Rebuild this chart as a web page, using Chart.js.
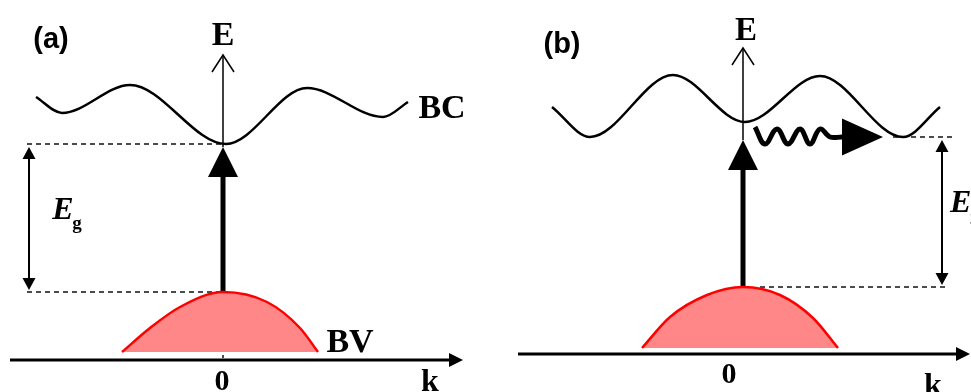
<!DOCTYPE html>
<html lang="en">
<head>
<meta charset="UTF-8">
<title>Direct and indirect band gap</title>
<script src="https://cdn.jsdelivr.net/npm/chart.js@4"></script>
<style>
  body { margin: 0; background: #fff; }
  #wrap { position: relative; width: 971px; height: 392px; overflow: hidden; }
  canvas { position: absolute; top: 0; }
</style>
</head>
<body>
<div id="wrap">
  <canvas id="panelA" width="490" height="392" style="left:0"></canvas>
  <canvas id="panelB" width="481" height="392" style="left:490px"></canvas>
</div>
<script>
// (a) direct gap: conduction band (BC) and valence band (BV), k and E in arbitrary units
const bcA_k = [-1.87, -1.61, -0.93, 0.03, 0.84, 1.60, 1.85];
const bcA_E = [2.63, 2.47, 2.75, 2.16, 2.72, 2.43, 2.58];
const bvA_k = [-1.01, -0.73, -0.43, 0, 0.44, 0.77, 0.95];
const bvA_E = [0.08, 0.32, 0.53, 0.68, 0.58, 0.32, 0.08];
const gapA = { bc: 2.16, bv: 0.68 };

// (b) indirect gap
const bcB_k = [-1.91, -1.53, -0.70, 0.02, 0.77, 1.60, 1.97];
const bcB_E = [2.47, 2.17, 2.79, 2.32, 2.78, 2.17, 2.47];
const bvB_k = [-1.01, -0.73, -0.36, 0, 0.37, 0.70, 0.95];
const bvB_E = [0.06, 0.37, 0.59, 0.67, 0.59, 0.36, 0.06];
const gapB = { bc: 2.17, bv: 0.67 };
// phonon squiggle from k=0 towards the BC minimum
const waveB_k = [0.12, 0.22, 0.34, 0.45, 0.57, 0.67, 0.77, 0.87, 0.99];
const waveB_E = [2.27, 2.10, 2.25, 2.10, 2.25, 2.10, 2.25, 2.17, 2.17];

const pts = (ks, es) => ks.map((k, i) => ({ x: k, y: es[i] }));
const seg = (k0, e0, k1, e1) => [{ x: k0, y: e0 }, { x: k1, y: e1 }];

// arrow heads at the ends of a dataset
function head(ctx, from, to, h) {
  const a = Math.atan2(to.y - from.y, to.x - from.x);
  ctx.save();
  ctx.translate(to.x, to.y);
  ctx.rotate(a);
  ctx.beginPath();
  if (h.type === 'open') {
    ctx.moveTo(-h.len, -h.half);
    ctx.lineTo(0, 0);
    ctx.lineTo(-h.len, h.half);
    ctx.lineWidth = h.width || 1.5;
    ctx.strokeStyle = '#000';
    ctx.stroke();
  } else {
    // base sits on the end point, tip goes forward
    ctx.moveTo(0, -h.half);
    ctx.lineTo(h.len, 0);
    ctx.lineTo(0, h.half);
    ctx.closePath();
    ctx.fillStyle = '#000';
    ctx.fill();
  }
  ctx.restore();
}

const arrowPlugin = {
  id: 'arrows',
  afterDatasetsDraw(chart) {
    const ctx = chart.ctx;
    chart.data.datasets.forEach((ds, i) => {
      if (!ds.arrow) return;
      const p = chart.getDatasetMeta(i).data;
      const n = p.length;
      if (ds.arrow.end) head(ctx, p[n - 2], p[n - 1], ds.arrow.end);
      if (ds.arrow.start) head(ctx, p[1], p[0], ds.arrow.start);
    });
  }
};

function textPlugin(items) {
  return {
    id: 'texts',
    afterDraw(chart) {
      const { ctx, scales: { x, y } } = chart;
      ctx.save();
      ctx.fillStyle = '#000';
      ctx.textBaseline = 'alphabetic';
      items.forEach(t => {
        ctx.font = t.font;
        ctx.textAlign = t.align || 'center';
        ctx.fillText(t.text, x.getPixelForValue(t.k), y.getPixelForValue(t.E));
      });
      ctx.restore();
    }
  };
}

const line = (data, extra) => Object.assign({
  data, showLine: true, pointRadius: 0, borderColor: '#000', borderWidth: 2.5,
  fill: false, cubicInterpolationMode: 'monotone'
}, extra);
const dashed = data => line(data, { borderWidth: 1.5, borderColor: '#111', borderDash: [5, 4] });
const FILLED = (len, half) => ({ type: 'filled', len, half });

function makeChart(id, datasets, range, texts) {
  return new Chart(document.getElementById(id), {
    type: 'scatter',
    data: { datasets },
    options: {
      responsive: false,
      animation: false,
      layout: { padding: 0 },
      plugins: { legend: { display: false }, tooltip: { enabled: false } },
      scales: {
        x: { type: 'linear', display: false, min: range.k[0], max: range.k[1] },
        y: { type: 'linear', display: false, min: range.E[0], max: range.E[1] }
      }
    },
    plugins: [arrowPlugin, textPlugin(texts)]
  });
}

const SERIF = '"Liberation Serif", "Times New Roman", serif';
const SANS = '"Liberation Sans", Arial, sans-serif';

makeChart('panelA', [
  line(pts(bvA_k, bvA_E), { borderColor: '#ff0000', backgroundColor: '#ff8787', fill: { value: 0.08 } }),
  line(pts(bcA_k, bcA_E)),
  dashed(seg(-1.96, gapA.bc, 0, gapA.bc)),
  dashed(seg(-1.96, gapA.bv, 0, gapA.bv)),
  dashed(seg(0, gapA.bv, 0, 0.02)),
  line(seg(-2.13, 0, 2.26, 0), { borderWidth: 3, arrow: { end: FILLED(14, 7) } }),
  line(seg(0, 2.13, 0, 3.05), { borderWidth: 1.5, arrow: { end: { type: 'open', len: 17, half: 11, width: 1.5 } } }),
  line(seg(0, gapA.bv, 0, 1.83), { borderWidth: 5, arrow: { end: FILLED(30, 15) } }),
  line(seg(-1.94, 0.82, -1.94, 2.01), { borderWidth: 2, arrow: { start: FILLED(12, 6.5), end: FILLED(12, 6.5) } })
], { k: [-2.23, 2.67], E: [-0.32, 3.60] }, [
  { text: '(a)', k: -1.72, E: 3.12, font: 'bold 29px ' + SANS },
  { text: 'E', k: 0, E: 3.15, font: 'bold 34px ' + SERIF },
  { text: 'BC', k: 2.19, E: 2.42, font: 'bold 34px ' + SERIF },
  { text: 'BV', k: 1.27, E: 0.08, font: 'bold 34px ' + SERIF },
  { text: '0', k: -0.01, E: -0.30, font: 'bold 30px ' + SERIF },
  { text: 'k', k: 2.07, E: -0.31, font: 'bold 32px ' + SERIF },
  { text: 'E', k: -1.60, E: 1.41, font: 'italic bold 32px ' + SERIF },
  { text: 'g', k: -1.46, E: 1.31, font: 'bold 19px ' + SERIF }
]);

makeChart('panelB', [
  line(pts(bvB_k, bvB_E), { borderColor: '#ff0000', backgroundColor: '#ff8787', fill: { value: 0.06 } }),
  line(pts(bcB_k, bcB_E)),
  dashed(seg(1.50, gapB.bc, 2.10, gapB.bc)),
  dashed(seg(0.17, gapB.bv, 2.02, gapB.bv)),
  dashed(seg(0, gapB.bv, 0, 0.04)),
  line(seg(-2.25, 0, 2.13, 0), { borderWidth: 3, arrow: { end: FILLED(14, 7) } }),
  line(seg(0, 2.14, 0, 3.06), { borderWidth: 1.5, arrow: { end: { type: 'open', len: 17, half: 11, width: 1.5 } } }),
  line(seg(0, gapB.bv, 0, 1.84), { borderWidth: 5, arrow: { end: FILLED(30, 15) } }),
  line(seg(1.99, 0.81, 1.99, 2.02), { borderWidth: 2, arrow: { start: FILLED(12, 6.5), end: FILLED(12, 6.5) } }),
  line(pts(waveB_k, waveB_E), { borderWidth: 5, cubicInterpolationMode: 'default', tension: 0.4, arrow: { end: FILLED(41, 18.5) } })
], { k: [-2.53, 2.28], E: [-0.38, 3.54] }, [
  { text: '(b)', k: -1.81, E: 3.01, font: 'bold 29px ' + SANS },
  { text: 'E', k: 0.03, E: 3.14, font: 'bold 33px ' + SERIF },
  { text: '0', k: -0.14, E: -0.29, font: 'bold 30px ' + SERIF },
  { text: 'k', k: 1.90, E: -0.41, font: 'bold 32px ' + SERIF },
  { text: 'E', k: 2.07, E: 1.42, font: 'italic bold 32px ' + SERIF, align: 'left' },
  { text: 'g', k: 2.27, E: 1.33, font: 'bold 19px ' + SERIF, align: 'left' }
]);
</script>
</body>
</html>
